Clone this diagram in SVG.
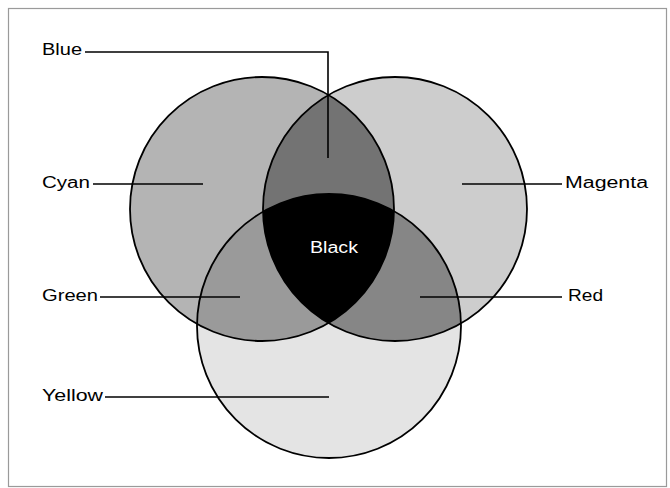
<svg xmlns="http://www.w3.org/2000/svg" width="670" height="488" viewBox="0 0 670 488">
  <style>
    .lbl { font-family: "Liberation Sans", Arial, sans-serif; font-size: 16px; fill: #000; }
    .wht { fill: #fff; }
    .ring { fill: none; stroke: #000; stroke-width: 1.8; }
    .lead { fill: none; stroke: #000; stroke-width: 1.6; }
  </style>
  <defs>
    <clipPath id="clipC"><circle cx="262" cy="209" r="132"/></clipPath>
    <clipPath id="clipM"><circle cx="395" cy="209" r="132"/></clipPath>
    <clipPath id="clipY"><circle cx="329" cy="326" r="132"/></clipPath>
  </defs>
  <rect x="8.5" y="8.5" width="658" height="478" fill="#fff" stroke="#9a9a9a" stroke-width="1.2"/>

  <g id="yellow">
    <circle cx="329" cy="326" r="132" fill="#e4e4e4"/>
  </g>
  <g id="cyan">
    <circle cx="262" cy="209" r="132" fill="#b4b4b4"/>
  </g>
  <g id="magenta">
    <circle cx="395" cy="209" r="132" fill="#cdcdcd"/>
  </g>
  <g id="green">
    <g clip-path="url(#clipC)"><circle cx="329" cy="326" r="132" fill="#9a9a9a"/></g>
  </g>
  <g id="red">
    <g clip-path="url(#clipM)"><circle cx="329" cy="326" r="132" fill="#868686"/></g>
  </g>
  <g id="blue">
    <g clip-path="url(#clipC)"><circle cx="395" cy="209" r="132" fill="#737373"/></g>
  </g>
  <g id="black">
    <g clip-path="url(#clipC)"><g clip-path="url(#clipM)"><circle cx="329" cy="326" r="132" fill="#000"/></g></g>
  </g>
  <g id="outlines">
    <circle class="ring" cx="262" cy="209" r="132"/>
    <circle class="ring" cx="395" cy="209" r="132"/>
    <circle class="ring" cx="329" cy="326" r="132"/>
  </g>

  <g id="connectors">
    <polyline class="lead" points="85,52 328,52 328,158"/>
    <line class="lead" x1="93" y1="184" x2="203" y2="184"/>
    <line class="lead" x1="462" y1="184" x2="562" y2="184"/>
    <line class="lead" x1="100" y1="297" x2="240" y2="297"/>
    <line class="lead" x1="420" y1="297" x2="562" y2="297"/>
    <line class="lead" x1="105" y1="397" x2="329" y2="397"/>
  </g>

  <g id="label-blue"><text class="lbl" x="42" y="55" textLength="40" lengthAdjust="spacingAndGlyphs">Blue</text></g>
  <g id="label-cyan"><text class="lbl" x="42" y="188" textLength="48" lengthAdjust="spacingAndGlyphs">Cyan</text></g>
  <g id="label-magenta"><text class="lbl" x="565" y="188" textLength="83" lengthAdjust="spacingAndGlyphs">Magenta</text></g>
  <g id="label-green"><text class="lbl" x="42" y="301" textLength="56" lengthAdjust="spacingAndGlyphs">Green</text></g>
  <g id="label-red"><text class="lbl" x="568" y="301" textLength="35" lengthAdjust="spacingAndGlyphs">Red</text></g>
  <g id="label-yellow"><text class="lbl" x="42" y="401" textLength="61" lengthAdjust="spacingAndGlyphs">Yellow</text></g>
  <g id="label-black"><text class="lbl wht" x="310" y="253" textLength="48" lengthAdjust="spacingAndGlyphs">Black</text></g>
</svg>
